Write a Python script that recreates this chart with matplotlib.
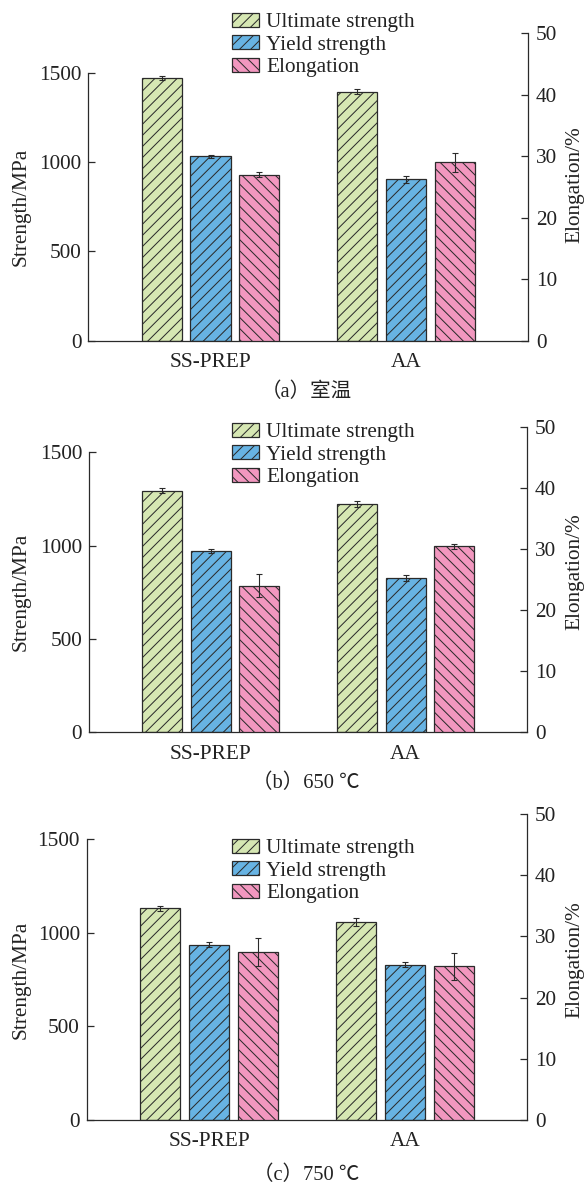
import matplotlib
matplotlib.use("Agg")
import matplotlib.pyplot as plt
import numpy as np
from matplotlib.patches import Patch

# ---------------- data ----------------
groups = ["SS-PREP", "AA"]
series_labels = ["Ultimate strength", "Yield strength", "Elongation"]
captions = ["（a）室温", "（b）650 ℃", "（c）750 ℃"]

uts = [[1472, 1393], [1295, 1222], [1131, 1058]]
uts_err = [[12, 15], [12, 16], [14, 22]]
ys = [[1033, 902], [971, 827], [937, 830]]
ys_err = [[8, 19], [13, 17], [12, 14]]
elong = [[27.0, 29.0], [24.0, 30.4], [27.5, 25.1]]
elong_err = [[0.4, 1.55], [1.9, 0.44], [2.3, 2.24]]

strength_ticks = [0, 500, 1000, 1500]
elong_ticks = [0, 10, 20, 30, 40, 50]

# ---------------- style ----------------
W, H, DPI = 585, 1184, 100


def pt(px):
    return px * 72.0 / DPI


plt.rcParams["font.family"] = ["Liberation Serif", "Noto Sans CJK SC", "DejaVu Sans"]
plt.rcParams["hatch.linewidth"] = pt(1.0)
plt.rcParams["hatch.color"] = "#2a2a2a"

colors = ["#d6e7b3", "#67b3e3", "#f297bf"]
hatches = ["///", "///", "\\\\\\"]
edge = "#2a2a2a"
text_c = "#222222"
FS = pt(21.25)
LW = pt(1.25)

# layout in pixels: left, right, top, bottom, y of 1500 tick
layout = [
    (88.3, 528.3, 33.3, 340.5, 72.7),
    (89.0, 527.3, 426.7, 732.3, 452.3),
    (86.8, 527.3, 814.0, 1120.0, 839.3),
]
legend_mid = [45.0, 455.0, 871.0]
elab_y = [185, 572, 960]
cap_y = [392, 783, 1175]

fig = plt.figure(figsize=(W / DPI, H / DPI), dpi=DPI)

x = np.arange(len(groups))
width = 0.205
offs = [-0.25, 0.0, 0.25]
eb_kw = dict(fmt="none", ecolor=edge, elinewidth=pt(1.1), capsize=pt(2.9),
             capthick=pt(1.1), zorder=3)

for i in range(3):
    l, r, t, b, y15 = layout[i]
    ax = fig.add_axes([l / W, 1 - b / H, (r - l) / W, (b - t) / H])
    ax2 = ax.twinx()
    top_left = 1500 * (b - t) / (b - y15)
    ax.set_ylim(0, top_left)
    ax2.set_ylim(0, 50)
    ax.set_xlim(-0.625, 1.625)

    ax.bar(x + offs[0], uts[i], width, color=colors[0], edgecolor=edge,
           hatch=hatches[0], linewidth=LW, zorder=2)
    ax.errorbar(x + offs[0], uts[i], yerr=uts_err[i], **eb_kw)
    ax.bar(x + offs[1], ys[i], width, color=colors[1], edgecolor=edge,
           hatch=hatches[1], linewidth=LW, zorder=2)
    ax.errorbar(x + offs[1], ys[i], yerr=ys_err[i], **eb_kw)
    ax2.bar(x + offs[2], elong[i], width, color=colors[2], edgecolor=edge,
            hatch=hatches[2], linewidth=LW, zorder=2)
    ax2.errorbar(x + offs[2], elong[i], yerr=elong_err[i], **eb_kw)

    for a in (ax, ax2):
        a.spines["top"].set_visible(False)
        for s in a.spines.values():
            s.set_linewidth(LW)
            s.set_color(edge)
    ax.spines["right"].set_visible(False)
    ax2.spines["left"].set_visible(False)
    ax2.spines["bottom"].set_visible(False)
    ax.spines["left"].set_bounds(0, 1500)

    ax.set_yticks(strength_ticks)
    ax.set_yticklabels([str(v) for v in strength_ticks])
    ax2.set_yticks(elong_ticks)
    ax2.set_yticklabels([str(v) for v in elong_ticks])
    ax.tick_params(axis="y", direction="in", length=pt(7), width=LW, pad=pt(7),
                   labelsize=FS, colors=edge, labelcolor=text_c)
    ax2.tick_params(axis="y", direction="in", length=pt(7), width=LW, pad=pt(7.5),
                    labelsize=FS, colors=edge, labelcolor=text_c)
    ax.set_xticks(x)
    ax.set_xticklabels(groups)
    ax.tick_params(axis="x", length=0, pad=pt(12.5), labelsize=FS, labelcolor=text_c)

    # y labels
    fig.text(21 / W, 1 - ((b + y15) / 2) / H, "Strength/MPa", rotation=90,
             ha="center", va="center", fontsize=FS, color=text_c)
    fig.text(575 / W, 1 - elab_y[i] / H, "Elongation/%", rotation=90,
             ha="center", va="center", fontsize=FS, color=text_c)

    # legend
    handles = [Patch(facecolor=colors[k], edgecolor=edge, hatch=hatches[k],
                     linewidth=LW) for k in range(3)]
    fig.legend(handles, series_labels, loc="center left",
               bbox_to_anchor=(232 / W, 1 - legend_mid[i] / H),
               bbox_transform=fig.transFigure, frameon=False, fontsize=FS,
               borderpad=0, borderaxespad=0, handlelength=1.25, handleheight=0.62,
               handletextpad=0.36, labelspacing=0.15, labelcolor=text_c)

    # caption
    fig.text(306 / W, 1 - cap_y[i] / H, captions[i], ha="center", va="center",
             fontsize=pt(20.5), color=text_c)

fig.savefig("out.png", dpi=DPI)
